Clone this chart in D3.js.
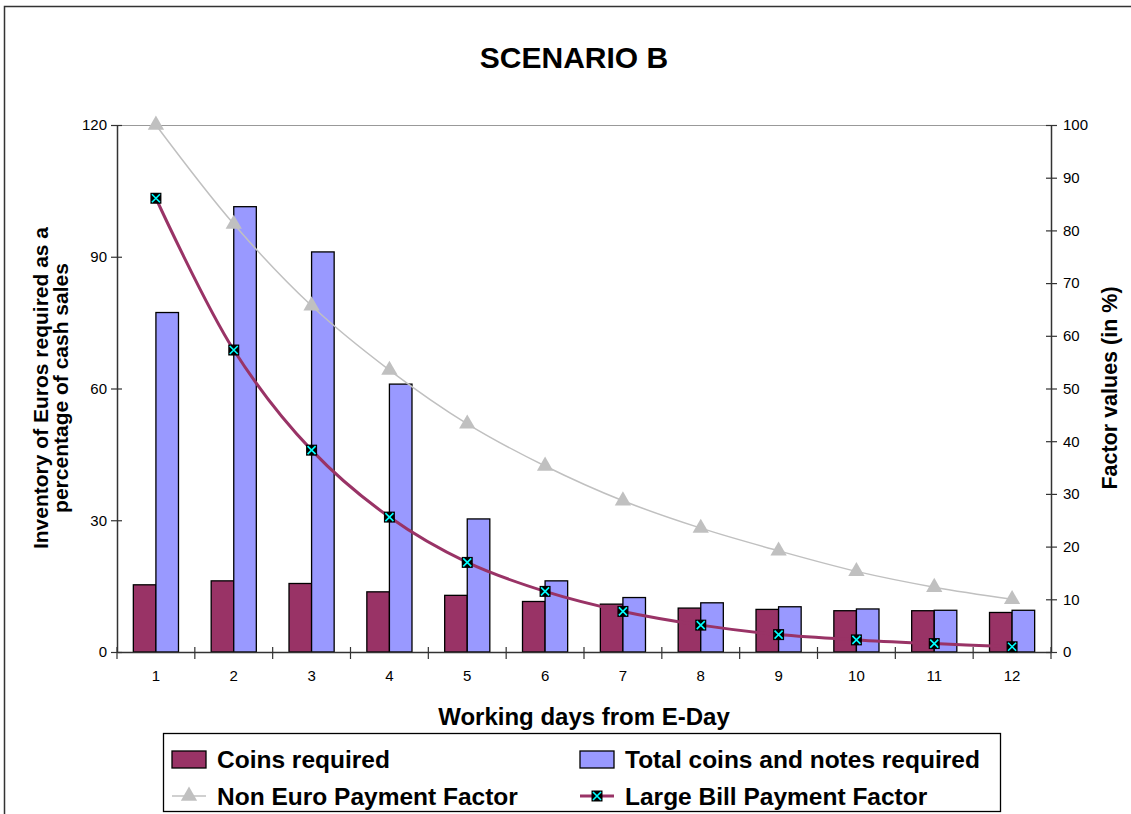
<!DOCTYPE html>
<html><head><meta charset="utf-8">
<script src="https://cdn.jsdelivr.net/npm/d3@7"></script>
<style>body{margin:0;background:#fff}svg{display:block;font-family:Arial,"Liberation Sans",sans-serif}</style>
</head><body><svg id="c" width="1131" height="814"></svg>
<script>
const days = ["1","2","3","4","5","6","7","8","9","10","11","12"];
const coinsRequired = [15.3,16.2,15.6,13.7,12.9,11.5,10.9,10.0,9.7,9.4,9.4,9.0];
const totalRequired = [77.3,101.4,91.1,61.0,30.3,16.2,12.4,11.2,10.3,9.8,9.5,9.5];
const nonEuroFactor = [100,81.2,65.7,53.5,43.3,35.3,28.7,23.5,19.2,15.3,12.3,10.0];
const largeBillFactor = [86.1,57.3,38.3,25.6,17.0,11.5,7.7,5.1,3.3,2.3,1.6,1.0];
const leftTicks = [0,30,60,90,120];
const rightTicks = [0,10,20,30,40,50,60,70,80,90,100];

const svg = d3.select("#c");
const L=117, R=1051, T=125, B=652;
const x = d3.scaleBand().domain(days).range([L,R]).padding(0);
const yL = d3.scaleLinear().domain([0,120]).range([B,T]);
const yR = d3.scaleLinear().domain([0,100]).range([B,T]);
const axisCol="#333";

// outer border
svg.append("path").attr("d","M4.5,814V6.5H1131").attr("fill","none").attr("stroke",axisCol).attr("stroke-width",1.5);

// title
svg.append("text").attr("x",574).attr("y",68).attr("text-anchor","middle")
  .attr("font-size",30).attr("font-weight","bold").text("SCENARIO B");

// top plot border
svg.append("line").attr("x1",L).attr("x2",R).attr("y1",T+0.5).attr("y2",T+0.5).attr("stroke","#999").attr("stroke-width",1.2);

// bars
const bw = x.bandwidth()*0.29;
const g = svg.append("g");
days.forEach((d,i)=>{
  const cx = x(d)+x.bandwidth()/2;
  g.append("rect").attr("x",cx-bw).attr("y",yL(coinsRequired[i])).attr("width",bw).attr("height",B-yL(coinsRequired[i]))
    .attr("fill","#993366").attr("stroke","#000").attr("stroke-width",1.3);
  g.append("rect").attr("x",cx).attr("y",yL(totalRequired[i])).attr("width",bw).attr("height",B-yL(totalRequired[i]))
    .attr("fill","#9999ff").attr("stroke","#000").attr("stroke-width",1.3);
});

// axes
const axL = svg.append("g").attr("transform",`translate(${L},0)`)
  .call(d3.axisLeft(yL).tickValues(leftTicks).tickSize(5).tickSizeOuter(0).tickPadding(5));
const axR = svg.append("g").attr("transform",`translate(${R},0)`)
  .call(d3.axisRight(yR).tickValues(rightTicks).tickSize(5).tickSizeOuter(0).tickPadding(7));
const axX = svg.append("g").attr("transform",`translate(0,${B})`)
  .call(d3.axisBottom(x).tickSize(0).tickPadding(18));
[axL,axR,axX].forEach(a=>{
  a.selectAll("path.domain").attr("stroke",axisCol).attr("stroke-width",1.5);
  a.selectAll("line").attr("stroke",axisCol).attr("stroke-width",1.2);
  a.selectAll("text").attr("font-size",15).attr("fill","#000").attr("font-family","Arial, 'Liberation Sans', sans-serif");
});
axL.selectAll(".tick line").attr("x1",5).attr("x2",-6);
axR.selectAll(".tick line").attr("x1",-5).attr("x2",6);
const sepG = svg.append("g");
days.forEach((d)=>{
  const xx = x(d);
  sepG.append("line").attr("x1",xx).attr("x2",xx).attr("y1",B-5).attr("y2",B+7).attr("stroke",axisCol).attr("stroke-width",1.2);
});
sepG.append("line").attr("x1",R).attr("x2",R).attr("y1",B-5).attr("y2",B+7).attr("stroke",axisCol).attr("stroke-width",1.2);

// lines
const cx = d => x(d)+x.bandwidth()/2;
const lineNE = d3.line().x((v,i)=>cx(days[i])).y(v=>yR(v)).curve(d3.curveCatmullRom);
svg.append("path").attr("d",lineNE(nonEuroFactor)).attr("fill","none").attr("stroke","#c0c0c0").attr("stroke-width",1.5);
const tri = d3.symbol().type(d3.symbolTriangle).size(115);
nonEuroFactor.forEach((v,i)=>{
  svg.append("path").attr("d",tri()).attr("transform",`translate(${cx(days[i])},${yR(v)})`).attr("fill","#c0c0c0");
});
svg.append("path").attr("d",lineNE(largeBillFactor)).attr("fill","none").attr("stroke","#993366").attr("stroke-width",3);
function xMarker(sel,px,py){
  const m = sel.append("g").attr("transform",`translate(${px},${py})`);
  m.append("rect").attr("x",-5.5).attr("y",-5.5).attr("width",11).attr("height",11).attr("fill","#000");
  m.append("path").attr("d","M-4,-4L4,4M-4,4L4,-4").attr("stroke","#00ffff").attr("stroke-width",1.6);
}
largeBillFactor.forEach((v,i)=>xMarker(svg,cx(days[i]),yR(v)));

// axis titles
svg.append("text").attr("x",584).attr("y",725).attr("text-anchor","middle").attr("font-size",24).attr("font-weight","bold").text("Working days from E-Day");
svg.append("text").attr("transform","translate(48,388) rotate(-90)").attr("text-anchor","middle").attr("font-size",21).attr("font-weight","bold").text("Inventory of Euros required as a");
svg.append("text").attr("transform","translate(68,388) rotate(-90)").attr("text-anchor","middle").attr("font-size",21).attr("font-weight","bold").text("percentage of cash sales");
svg.append("text").attr("transform","translate(1117,388) rotate(-90)").attr("text-anchor","middle").attr("font-size",21.5).attr("font-weight","bold").text("Factor values (in %)");

// legend
const lg = svg.append("g");
lg.append("rect").attr("x",163.5).attr("y",733.5).attr("width",837).attr("height",78).attr("fill","#fff").attr("stroke","#000").attr("stroke-width",1.3);
const legendItems = [
  {label:"Coins required", type:"bar", color:"#993366", x:172, y:759},
  {label:"Total coins and notes required", type:"bar", color:"#9999ff", x:580, y:759},
  {label:"Non Euro Payment Factor", type:"tri", color:"#c0c0c0", x:172, y:796},
  {label:"Large Bill Payment Factor", type:"x", color:"#993366", x:580, y:796}
];
legendItems.forEach(it=>{
  if(it.type==="bar"){
    lg.append("rect").attr("x",it.x).attr("y",it.y-8).attr("width",34).attr("height",17).attr("fill",it.color).attr("stroke","#000").attr("stroke-width",1.3);
  } else if(it.type==="tri"){
    lg.append("line").attr("x1",it.x).attr("x2",it.x+34).attr("y1",it.y).attr("y2",it.y).attr("stroke",it.color).attr("stroke-width",1.5);
    lg.append("path").attr("d",tri()).attr("transform",`translate(${it.x+17},${it.y})`).attr("fill",it.color);
  } else {
    lg.append("line").attr("x1",it.x).attr("x2",it.x+34).attr("y1",it.y).attr("y2",it.y).attr("stroke",it.color).attr("stroke-width",3);
    xMarker(lg,it.x+17,it.y);
  }
  lg.append("text").attr("x",it.x+45).attr("y",it.y+8.5).attr("font-size",24.5).attr("font-weight","bold").text(it.label);
});
</script></body></html>
